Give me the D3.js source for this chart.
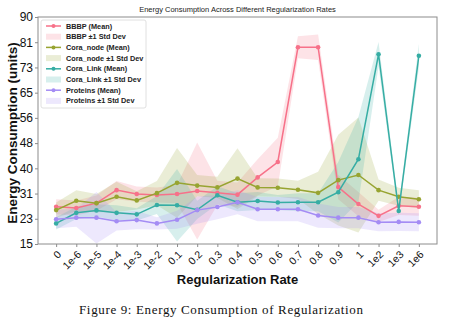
<!DOCTYPE html>
<html>
<head>
<meta charset="utf-8">
<script src="https://cdn.jsdelivr.net/npm/d3@7"></script>
<style>
  body { margin: 0; background: #fff; }
  svg { display: block; }
</style>
</head>
<body>
<svg id="chart" width="451" height="327"></svg>
<script>
// regularization rates on the x axis
var rates = ['0', '1e-6', '1e-5', '1e-4', '1e-3', '1e-2', '0.1', '0.2', '0.3', '0.4',
  '0.5', '0.6', '0.7', '0.8', '0.9', '1', '1e2', '1e3', '1e6'];

var bbbpMean = [27.3, 26.9, 28.5, 32.8, 31.5, 31.2, 31.5, 32.5, 31.9, 31.3, 37.0, 42.1, 80.0, 80.0, 33.8, 28.2, 24.3, 27.6, 27.3];
var bbbpStd = [2.5, 2.5, 2.5, 3, 2.5, 2.5, 3, 16, 4, 4, 6, 8, 3.6, 4.2, 4, 4, 2, 3, 3];

var coraNodeMean = [26.2, 29.3, 28.5, 30.6, 29.4, 31.8, 35.2, 34.3, 33.7, 36.6, 33.7, 33.6, 32.9, 31.9, 36.1, 37.8, 32.8, 30.6, 29.8];
var coraNodeStd = [2.5, 3.5, 3, 5, 3, 4, 11.5, 3.5, 3.5, 10, 3, 3, 3, 7, 15, 19, 3.5, 3, 3];

var coraLinkMean = [21.8, 25.3, 26.1, 25.3, 24.8, 27.9, 27.8, 26.3, 31.1, 28.8, 29.2, 28.7, 28.8, 28.8, 32.1, 43.0, 77.7, 25.9, 77.2];
var coraLinkStd = [2, 2, 2, 2.5, 2, 3, 12, 3, 3, 3, 3, 2.5, 3, 3, 10, 14, 4, 1.5, 4];

var proteinsMean = [23.2, 23.7, 23.7, 22.5, 22.9, 21.8, 23.0, 26.2, 27.2, 28.8, 26.5, 26.5, 26.5, 24.4, 23.7, 23.7, 22.2, 22.3, 22.2];
var proteinsStd = [3, 3, 8.5, 3, 3, 2, 3, 4.5, 4, 4, 4, 4, 4, 4, 3.5, 3.5, 3, 3, 3];

var seriesNames = ['BBBP', 'Cora_node', 'Cora_Link', 'Proteins'];
var seriesColors = ['#f77189', '#97a431', '#36ada4', '#a48cf4'];

var yTicks = d3.range(10).map(function (i) { return 15 + i * 75 / 9; });

var series = [
  { name: seriesNames[0], color: seriesColors[0], mean: bbbpMean, std: bbbpStd },
  { name: seriesNames[1], color: seriesColors[1], mean: coraNodeMean, std: coraNodeStd },
  { name: seriesNames[2], color: seriesColors[2], mean: coraLinkMean, std: coraLinkStd },
  { name: seriesNames[3], color: seriesColors[3], mean: proteinsMean, std: proteinsStd }
];

var svg = d3.select('#chart');
var plotLeft = 38, plotRight = 437, plotTop = 17, plotBottom = 244;

var x = d3.scalePoint().domain(rates).range([plotLeft, plotRight]).padding(0.9);
var y = d3.scaleLinear().domain([15, 90]).range([plotBottom, plotTop]);

var plot = svg.append('g');

// std bands first, then the mean lines on top
series.forEach(function (s) {
  var area = d3.area()
    .x(function (d, i) { return x(rates[i]); })
    .y0(function (d, i) { return y(d - s.std[i]); })
    .y1(function (d, i) { return y(d + s.std[i]); });
  plot.append('path')
    .attr('d', area(s.mean))
    .attr('fill', s.color)
    .attr('fill-opacity', 0.2);
});

series.forEach(function (s) {
  var line = d3.line()
    .x(function (d, i) { return x(rates[i]); })
    .y(function (d) { return y(d); });
  plot.append('path')
    .attr('d', line(s.mean))
    .attr('fill', 'none')
    .attr('stroke', s.color)
    .attr('stroke-width', 1.5);
  plot.selectAll(null)
    .data(s.mean)
    .enter()
    .append('circle')
    .attr('cx', function (d, i) { return x(rates[i]); })
    .attr('cy', function (d) { return y(d); })
    .attr('r', 2.3)
    .attr('fill', s.color);
});

// frame
svg.append('rect')
  .attr('x', plotLeft).attr('y', plotTop)
  .attr('width', plotRight - plotLeft).attr('height', plotBottom - plotTop)
  .attr('fill', 'none')
  .attr('stroke', '#8c8c8c')
  .attr('stroke-width', 1);

// y axis
var yAxis = svg.append('g')
  .attr('transform', 'translate(' + plotLeft + ',0)')
  .call(d3.axisLeft(y).tickValues(yTicks).tickSize(3).tickPadding(2)
    .tickFormat(function (d) { return Math.floor(d + 1e-9); }));
yAxis.select('.domain').remove();
yAxis.selectAll('line').attr('stroke', '#8c8c8c');
yAxis.selectAll('text')
  .attr('fill', '#111')
  .style('font-family', 'Liberation Sans, Arial, sans-serif')
  .style('font-size', '12px');

// x axis
var xAxis = svg.append('g')
  .attr('transform', 'translate(0,' + plotBottom + ')')
  .call(d3.axisBottom(x).tickSize(3).tickPadding(2));
xAxis.select('.domain').remove();
xAxis.selectAll('line').attr('stroke', '#8c8c8c');
xAxis.selectAll('text')
  .attr('fill', '#111')
  .style('font-family', 'Liberation Sans, Arial, sans-serif')
  .style('font-size', '10.5px')
  .attr('text-anchor', 'end')
  .attr('dy', '0.35em')
  .attr('transform', 'translate(-1,5) rotate(-45)');

// titles
svg.append('text')
  .attr('x', (plotLeft + plotRight) / 2).attr('y', 12)
  .attr('text-anchor', 'middle')
  .style('font-family', 'Liberation Sans, Arial, sans-serif')
  .style('font-size', '7.5px')
  .attr('fill', '#222')
  .text('Energy Consumption Across Different Regularization Rates');

svg.append('text')
  .attr('transform', 'translate(17,133) rotate(-90)')
  .attr('text-anchor', 'middle')
  .style('font-family', 'Liberation Sans, Arial, sans-serif')
  .style('font-size', '13.5px')
  .style('font-weight', 'bold')
  .attr('fill', '#111')
  .text('Energy Consumption (units)');

svg.append('text')
  .attr('x', (plotLeft + plotRight) / 2).attr('y', 284)
  .attr('text-anchor', 'middle')
  .style('font-family', 'Liberation Sans, Arial, sans-serif')
  .style('font-size', '13px')
  .style('font-weight', 'bold')
  .attr('fill', '#111')
  .text('Regularization Rate');

svg.append('text')
  .attr('x', 221).attr('y', 314)
  .attr('text-anchor', 'middle')
  .style('font-family', 'Liberation Serif, Times New Roman, serif')
  .style('font-size', '13px')
  .attr('fill', '#111')
  .attr('textLength', 284)
  .text('Figure 9: Energy Consumption of Regularization');

// legend
var legend = svg.append('g');
legend.append('rect')
  .attr('x', 41).attr('y', 20)
  .attr('width', 105).attr('height', 88)
  .attr('rx', 2)
  .attr('fill', '#fff')
  .attr('fill-opacity', 0.85)
  .attr('stroke', '#e0e0e0');

var legendRows = [];
series.forEach(function (s) {
  legendRows.push({ kind: 'line', color: s.color, label: s.name + ' (Mean)' });
  legendRows.push({ kind: 'band', color: s.color, label: s.name + ' \u00b11 Std Dev' });
});

var row = legend.selectAll('g.row')
  .data(legendRows)
  .enter()
  .append('g')
  .attr('class', 'row')
  .attr('transform', function (d, i) { return 'translate(0,' + (26 + i * 10.7) + ')'; });

row.each(function (d) {
  var g = d3.select(this);
  if (d.kind === 'line') {
    g.append('line')
      .attr('x1', 46).attr('x2', 61).attr('y1', 0).attr('y2', 0)
      .attr('stroke', d.color).attr('stroke-width', 1.5);
    g.append('circle').attr('cx', 53.5).attr('cy', 0).attr('r', 2).attr('fill', d.color);
  } else {
    g.append('rect')
      .attr('x', 46).attr('y', -3).attr('width', 15).attr('height', 6)
      .attr('fill', d.color).attr('fill-opacity', 0.2);
  }
  g.append('text')
    .attr('x', 66).attr('y', 0).attr('dy', '0.35em')
    .style('font-family', 'Liberation Sans, Arial, sans-serif')
    .style('font-size', '7.3px')
    .style('font-weight', 'bold')
    .attr('fill', '#222')
    .text(d.label);
});
</script>
</body>
</html>
